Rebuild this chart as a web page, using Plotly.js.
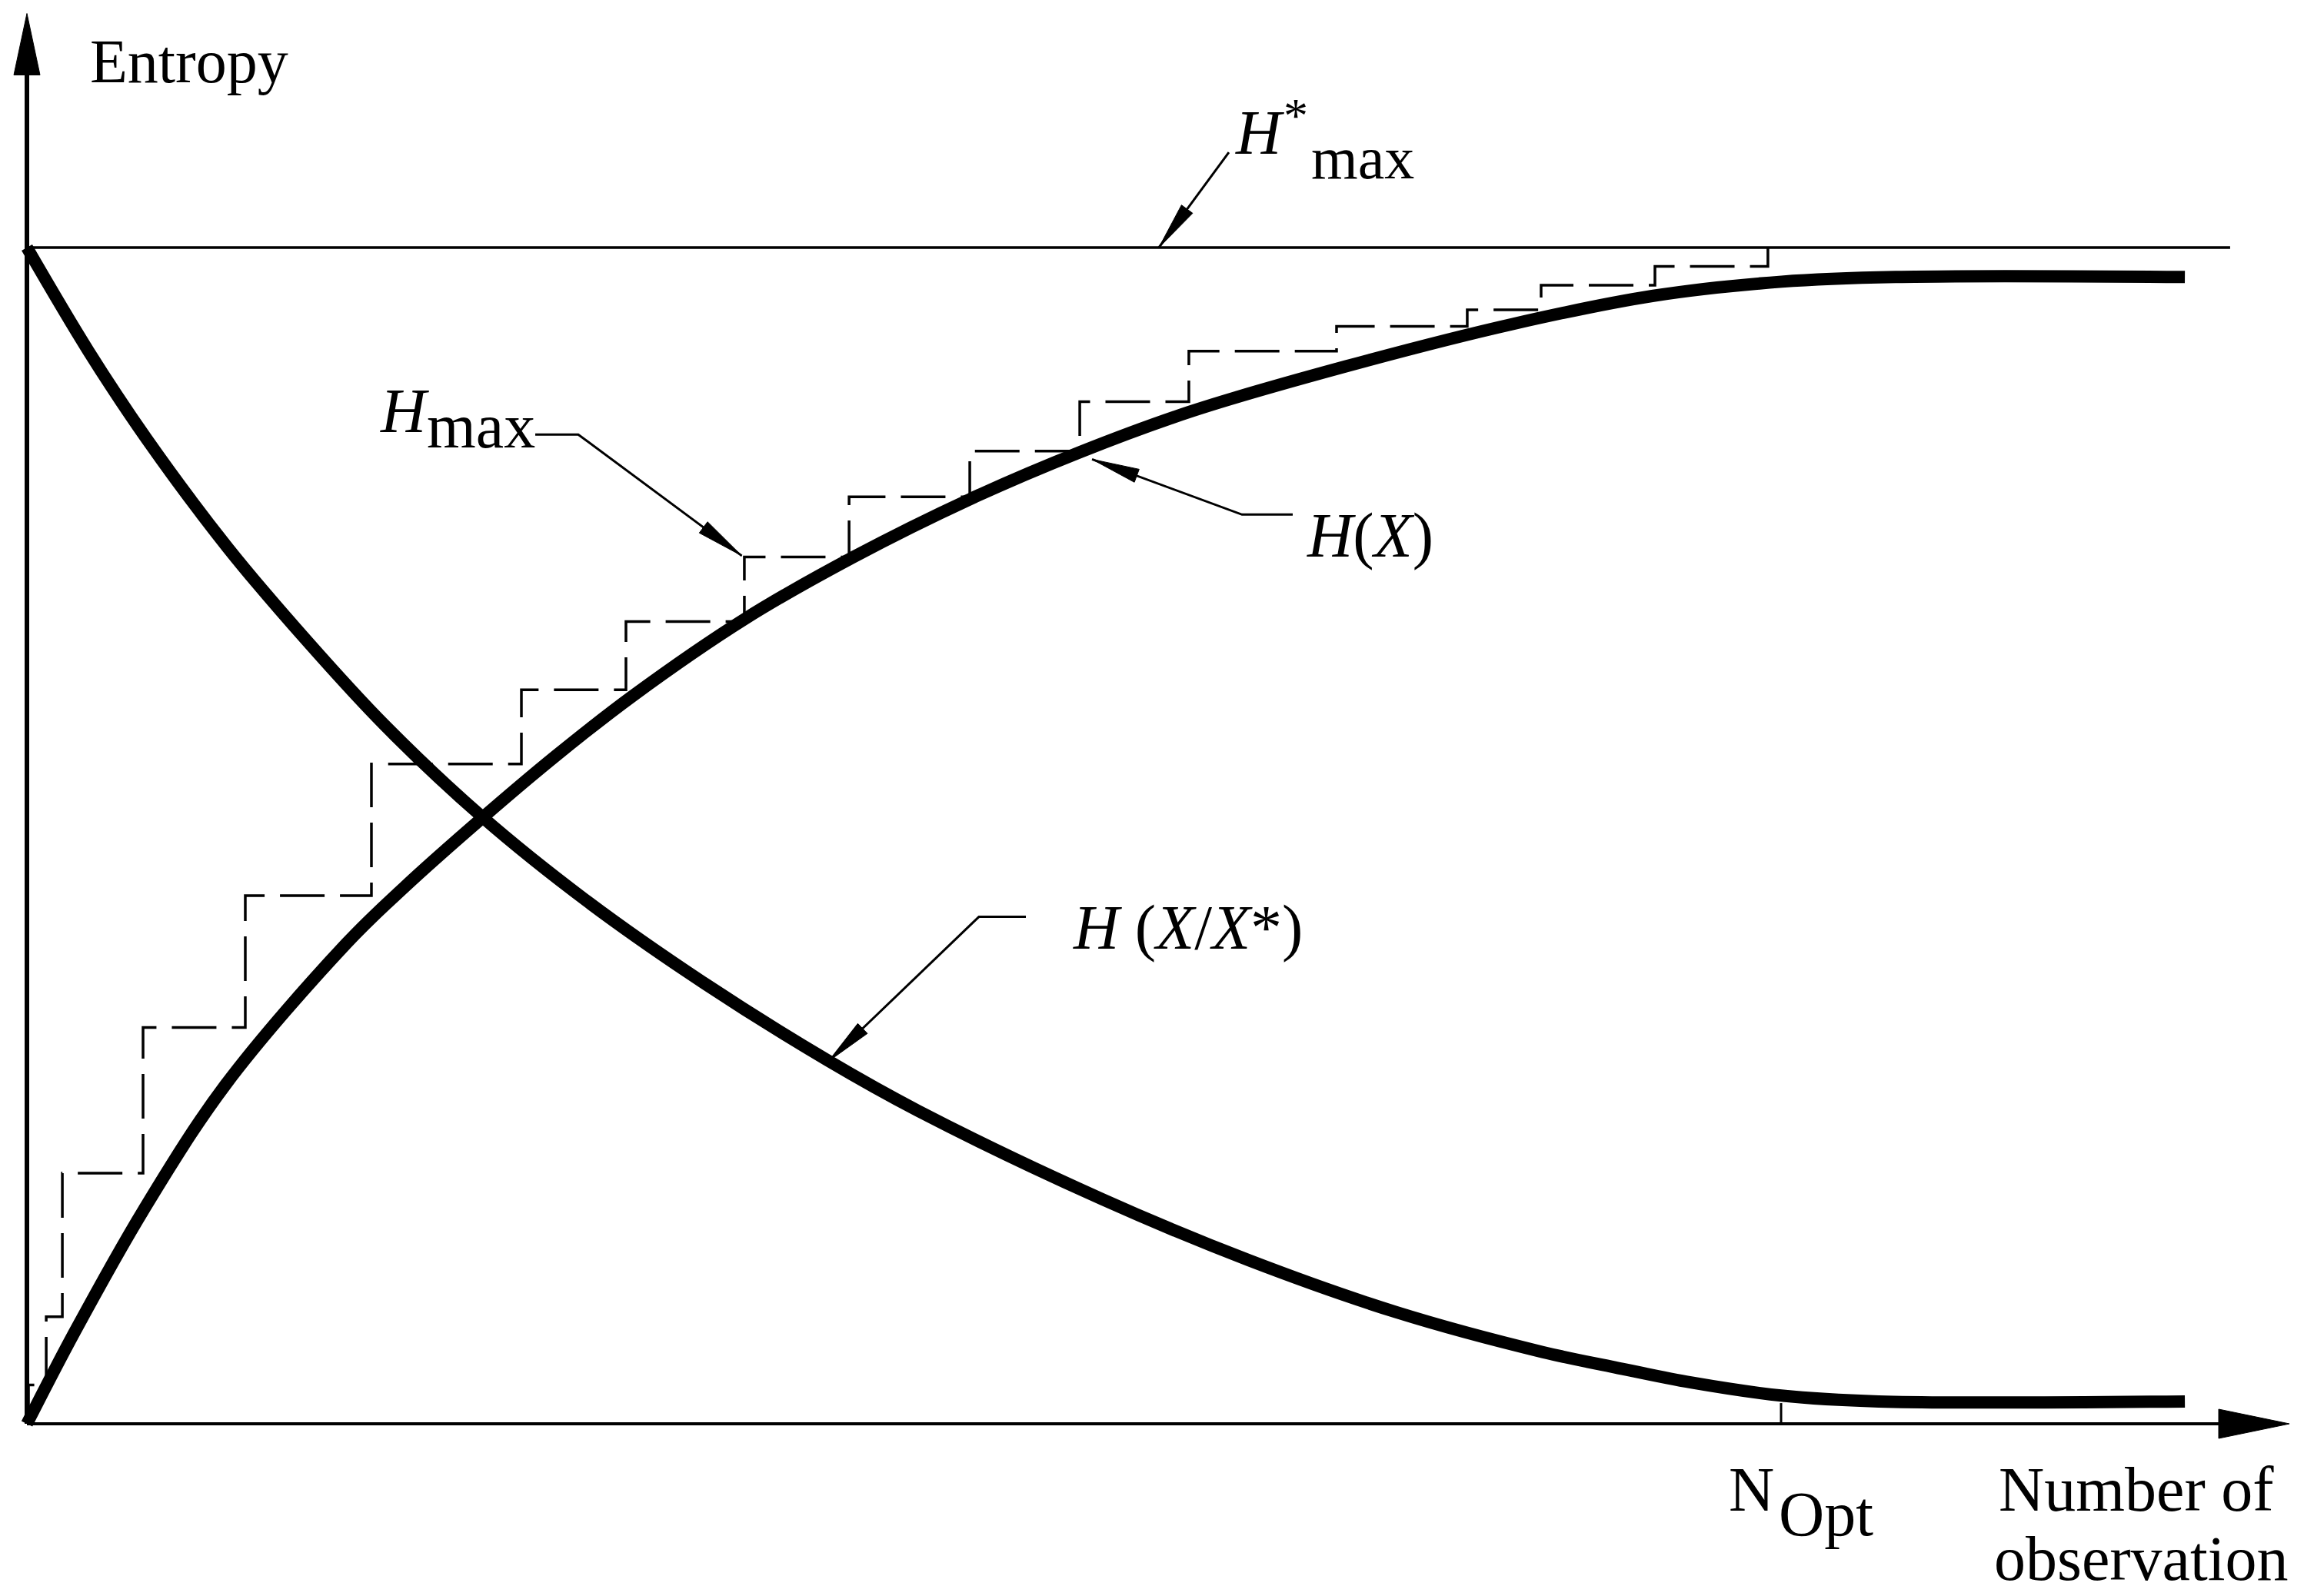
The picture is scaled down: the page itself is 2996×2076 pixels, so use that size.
<!DOCTYPE html>
<html>
<head>
<meta charset="utf-8">
<script src="https://cdn.plot.ly/plotly-3.0.1.min.js"></script>
<style>
  html, body { margin: 0; padding: 0; background: #fff; }
  #chart { width: 2996px; height: 2076px; }
</style>
</head>
<body>
<div id="chart"></div>
<script>
// H(X) - entropy growing with the number of observations
var obsHX = [0, 2.72, 6.66, 11.31, 18.19, 21.57, 25.87, 30.16, 34.55, 40.90, 47.13, 53.75, 60.02, 66.42, 75.19, 84.70, 92.72, 100.04, 106.53, 123.02];
var entHX = [0, 0.078, 0.182, 0.288, 0.408, 0.457, 0.514, 0.568, 0.619, 0.684, 0.737, 0.786, 0.826, 0.861, 0.899, 0.935, 0.959, 0.971, 0.975, 0.975];

// H(X/X*) - conditional entropy falling
var obsHXX = [0, 3.51, 6.84, 11.44, 16.00, 20.39, 25.95, 31.96, 38.67, 45.64, 50.81, 61.29, 69.66, 78.04, 86.41, 90.53, 94.91, 100.0, 105.57, 123.02];
var entHXX = [1.0, 0.912, 0.837, 0.745, 0.665, 0.594, 0.516, 0.444, 0.374, 0.309, 0.266, 0.191, 0.139, 0.095, 0.061, 0.048, 0.035, 0.024, 0.019, 0.019];

// Hmax staircase: where each step rises and the level reached
var stepObs = [0.09, 0.09, 1.10, 2.02, 6.62, 12.45, 19.64, 28.19, 34.15, 40.90, 46.87, 53.75, 60.02, 66.24, 74.66, 82.11, 86.32, 92.81, 99.25];
var stepLevel = [0, 0.033, 0.091, 0.213, 0.337, 0.449, 0.561, 0.624, 0.682, 0.737, 0.788, 0.827, 0.869, 0.912, 0.933, 0.947, 0.968, 0.984, 1.0];

// H*max level, optimum number of observations
var hStarMax = 1.0;
var hStarEnd = 125.6;
var nOpt = 100.0;

// axis extents (arrow tips)
var xAxisTip = 128.98;
var yAxisTip = 1.199;

// pixel scale of the data units (plot fills the page)
var PX_X = 22.81;
var PX_Y = 1530;
var W = 2996, H = 2076;
var xRange = [-35 / PX_X, (W - 35) / PX_X];
var yRange = [-(H - 1852) / PX_Y, 1852 / PX_Y];

var serif = 'Liberation Serif, Times New Roman, serif';

// arrowhead triangle pointing at tip, coming from "from"
function head(tip, from, len, halfW) {
  var dx = (tip[0] - from[0]) * PX_X, dy = (tip[1] - from[1]) * PX_Y;
  var d = Math.sqrt(dx * dx + dy * dy);
  var ux = dx / d, uy = dy / d;
  var bx = tip[0] * PX_X - ux * len, by = tip[1] * PX_Y - uy * len;
  var c1 = [(bx - uy * halfW) / PX_X, (by + ux * halfW) / PX_Y];
  var c2 = [(bx + uy * halfW) / PX_X, (by - ux * halfW) / PX_Y];
  return {
    type: 'path', xref: 'x', yref: 'y', layer: 'above',
    path: 'M' + tip[0] + ',' + tip[1] + ' L' + c1[0] + ',' + c1[1] + ' L' + c2[0] + ',' + c2[1] + ' Z',
    fillcolor: '#000', line: {color: '#000', width: 1}
  };
}

function poly(pts, w) {
  var p = pts.map(function (q, i) { return (i ? 'L' : 'M') + q[0] + ',' + q[1]; }).join(' ');
  return {type: 'path', xref: 'x', yref: 'y', path: p, line: {color: '#000', width: w}};
}

// leader lines for the curve labels
var leaders = [
  [[68.52, 1.081], [64.53, 1.0]],
  [[28.98, 0.841], [31.43, 0.841], [40.75, 0.738]],
  [[72.16, 0.773], [69.27, 0.773], [60.72, 0.820]],
  [[56.95, 0.431], [54.27, 0.431], [45.68, 0.308]]
];

var labels = [
  {text: 'Entropy', x: 3.51, y: 1.158, size: 80},
  {text: '<i>H</i>', x: 68.79, y: 1.098, size: 82},
  {text: '*', x: 71.55, y: 1.112, size: 64},
  {text: 'max', x: 73.13, y: 1.076, size: 78},
  {text: '<i>H</i>', x: 20.04, y: 0.861, size: 82},
  {text: 'max', x: 22.71, y: 0.848, size: 82},
  {text: '<i>H</i>(<i>X</i>)', x: 72.86, y: 0.755, size: 82},
  {text: '<i>H</i> (<i>X</i>/<i>X</i>*)', x: 59.54, y: 0.4216, size: 82},
  {text: 'N', x: 96.93, y: -0.0556, size: 82},
  {text: 'Opt', x: 99.78, y: -0.0771, size: 82},
  {text: 'Number of', x: 112.32, y: -0.0556, size: 82},
  {text: 'observation', x: 112.06, y: -0.1144, size: 82}
];

var traces = [
  {
    x: stepObs, y: stepLevel, type: 'scatter', mode: 'lines',
    line: {color: '#000', width: 3.5, dash: '58px,20px', shape: 'hv'},
    name: 'Hmax'
  },
  {
    x: obsHX, y: entHX, type: 'scatter', mode: 'lines',
    line: {color: '#000', width: 16, shape: 'spline', smoothing: 1},
    name: 'H(X)'
  },
  {
    x: obsHXX, y: entHXX, type: 'scatter', mode: 'lines',
    line: {color: '#000', width: 16, shape: 'spline', smoothing: 1},
    name: 'H(X/X*)'
  }
];

var shapes = [
  // axes
  {type: 'line', x0: 0, x1: 0, y0: 0, y1: yAxisTip - 0.05, line: {color: '#000', width: 6}},
  {type: 'line', x0: 0, x1: xAxisTip - 4, y0: 0, y1: 0, line: {color: '#000', width: 4}},
  head([0, yAxisTip], [0, 0], 80, 17),
  head([xAxisTip, 0], [0, 0], 92, 19),
  // H*max level
  {type: 'line', x0: 0, x1: hStarEnd, y0: hStarMax, y1: hStarMax, line: {color: '#000', width: 3.5}},
  // N_opt tick
  {type: 'line', x0: nOpt, x1: nOpt, y0: 0, y1: 0.0176, line: {color: '#000', width: 3}}
];

leaders.forEach(function (pts) {
  shapes.push(poly(pts, 3));
  shapes.push(head(pts[pts.length - 1], pts[pts.length - 2], 62, 9));
});

var annotations = labels.map(function (l) {
  return {
    text: l.text, x: l.x, y: l.y, xref: 'x', yref: 'y',
    xanchor: 'left', yanchor: 'middle', showarrow: false,
    font: {family: serif, size: l.size, color: '#000'}
  };
});

var layout = {
  width: W, height: H,
  margin: {l: 0, r: 0, t: 0, b: 0},
  paper_bgcolor: '#fff', plot_bgcolor: '#fff',
  showlegend: false,
  xaxis: {range: xRange, visible: false, fixedrange: true},
  yaxis: {range: yRange, visible: false, fixedrange: true},
  shapes: shapes,
  annotations: annotations
};

Plotly.newPlot('chart', traces, layout, {displayModeBar: false, staticPlot: true});
</script>
</body>
</html>
